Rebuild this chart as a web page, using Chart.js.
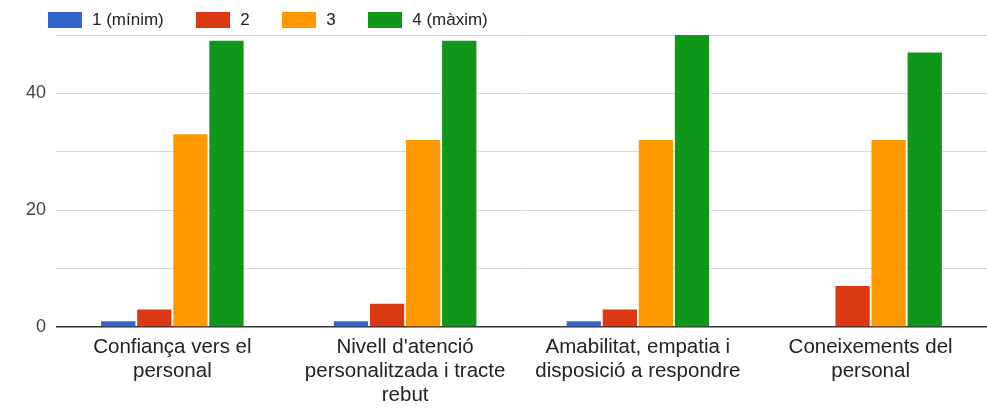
<!DOCTYPE html>
<html>
<head>
<meta charset="utf-8">
<script src="https://cdn.jsdelivr.net/npm/chart.js@4/dist/chart.umd.min.js"></script>
<style>
    html, body { margin: 0; padding: 0; background: #fff; }
    #wrap { position: relative; width: 987px; height: 408px; }
    #legend { position: absolute; left: 48px; top: 10px; display: flex; align-items: center;
        font-family: Arial, "Liberation Sans", sans-serif; font-size: 17px; color: #222; }
    #legend .item { display: flex; align-items: center; margin-right: 32.5px; }
    #legend .box { width: 34px; height: 16px; margin-right: 10px; }
</style>
</head>
<body>
<div id="wrap">
    <canvas id="chart" width="987" height="408"></canvas>
    <div id="legend"></div>
</div>
<script>
// Chart data
const categories = [
    ['Confiança vers el', 'personal'],
    ["Nivell d'atenció", 'personalitzada i tracte', 'rebut'],
    ['Amabilitat, empatia i', 'disposició a respondre'],
    ['Coneixements del', 'personal']
];
const seriesLabels = ['1 (mínim)', '2', '3', '4 (màxim)'];
const seriesColors = ['#3366cc', '#dc3912', '#ff9900', '#109618'];
const minim = [1, 1, 1, 0];
const dos = [3, 4, 3, 7];
const tres = [33, 32, 32, 32];
const maxim = [49, 49, 50, 47];
const yTicksShown = [0, 20, 40];

const seriesValues = [minim, dos, tres, maxim];
const font = 'Arial, "Liberation Sans", sans-serif';

// Legend (plain html so the spacing matches)
const legendEl = document.getElementById('legend');
seriesLabels.forEach(function(label, i) {
    const item = document.createElement('div');
    item.className = 'item';
    item.innerHTML = '<span class="box" style="background:' + seriesColors[i] + '"></span><span>' + label + '</span>';
    legendEl.appendChild(item);
});

const ctx = document.getElementById('chart').getContext('2d');
new Chart(ctx, {
    type: 'bar',
    data: {
        labels: categories,
        datasets: seriesLabels.map(function(label, i) {
            return {
                label: label,
                data: seriesValues[i],
                backgroundColor: seriesColors[i],
                borderWidth: 0,
                barPercentage: 0.95,
                categoryPercentage: 0.62
            };
        })
    },
    options: {
        responsive: false,
        animation: false,
        layout: { padding: { top: 35, right: 0, left: 0, bottom: 0 } },
        plugins: {
            legend: { display: false },
            tooltip: { enabled: false }
        },
        scales: {
            x: {
                grid: { display: false },
                border: { display: false },
                ticks: {
                    color: '#222',
                    font: { family: font, size: 20.5, lineHeight: 1.17 },
                    padding: 0,
                    maxRotation: 0,
                    autoSkip: false
                },
                afterFit: function(scale) { scale.height = 81; }
            },
            y: {
                min: 0,
                max: 50,
                border: { display: false },
                grid: {
                    drawTicks: false,
                    color: function(c) { return c.tick && c.tick.value === 0 ? '#333' : '#d9d9d9'; },
                    lineWidth: function(c) { return c.tick && c.tick.value === 0 ? 1.5 : 1; }
                },
                ticks: {
                    stepSize: 10,
                    color: '#444',
                    padding: 10,
                    font: { family: font, size: 18 },
                    callback: function(v) { return yTicksShown.includes(v) ? v : ''; }
                },
                afterFit: function(scale) { scale.width = 56; }
            }
        }
    }
});
</script>
</body>
</html>
